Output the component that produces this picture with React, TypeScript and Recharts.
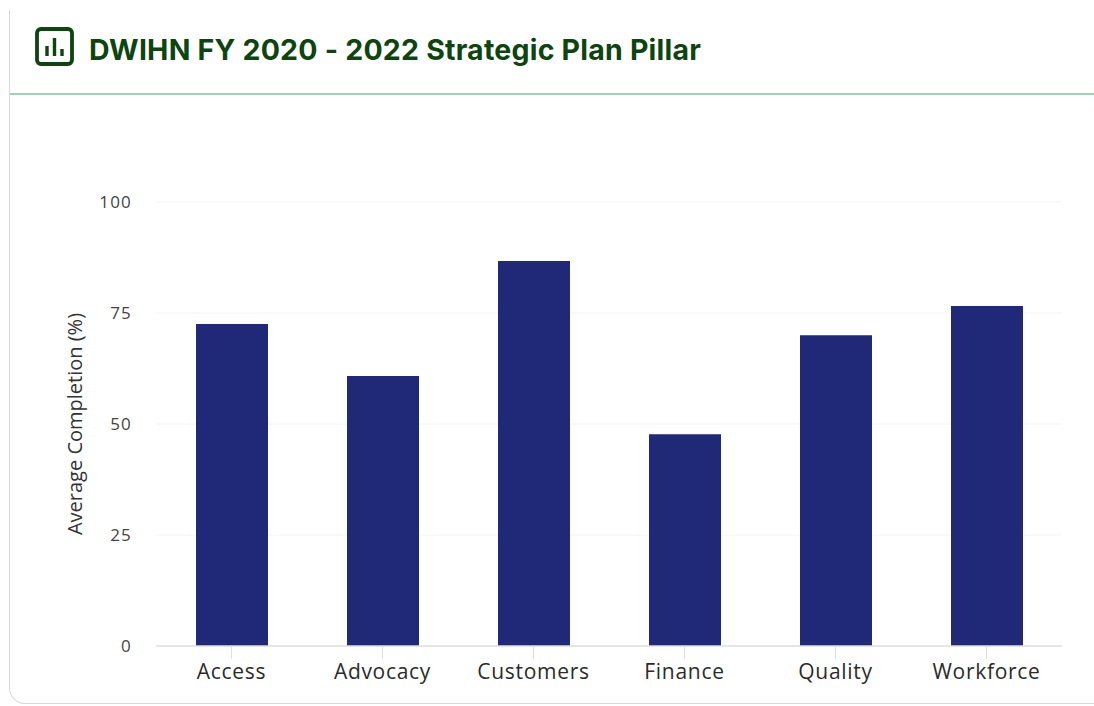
import { BarChart, Bar, XAxis, YAxis, CartesianGrid, Label } from "recharts";

const pillars = ["Access", "Advocacy", "Customers", "Finance", "Quality", "Workforce"];
const completion = [72.5, 60.8, 86.7, 47.7, 70, 76.6];
const yTicks = [0, 25, 50, 75, 100];

const data = pillars.map((pillar, i) => ({ pillar, completion: completion[i] }));

const AXIS_FONT = "'Open Sans', sans-serif";

function PanelIcon() {
  return (
    <svg width={40} height={40} viewBox="0 0 40 40" style={{ position: "absolute", left: 35, top: 27 }}>
      <rect x={2} y={2} width={35} height={35} rx={4} fill="none" stroke="#0d4410" strokeWidth={3.8} />
      <path d="M12 19v10M19.5 11v18M27 22v7" stroke="#0d4410" strokeWidth={3.4} fill="none" />
    </svg>
  );
}

export default function App() {
  return (
    <div style={{ position: "absolute", left: 0, top: 0, width: 1094, height: 706, background: "#fff", overflow: "hidden" }}>
      {/* card outline, open on the right */}
      <div
        style={{
          position: "absolute",
          left: 9,
          top: 10,
          width: 1120,
          height: 694,
          boxSizing: "border-box",
          border: "1.5px solid #d8d8d8",
          borderTop: "none",
          borderBottomLeftRadius: 16,
        }}
      />
      <PanelIcon />
      <div
        style={{
          position: "absolute",
          left: 89,
          top: 31,
          fontFamily: "Inter, sans-serif",
          fontWeight: 700,
          fontSize: 28.5,
          letterSpacing: 0.22,
          lineHeight: "38px",
          color: "#0d4410",
          whiteSpace: "nowrap",
        }}
      >
        DWIHN FY 2020 - 2022 Strategic Plan Pillar
      </div>
      <div style={{ position: "absolute", left: 10, top: 93, width: 1084, height: 2, background: "#a3d1b6" }} />

      <div style={{ position: "absolute", left: 0, top: 0 }}>
        <BarChart
          width={1094}
          height={706}
          data={data}
          margin={{ top: 202, right: 32, bottom: 0, left: 96 }}
        >
          <CartesianGrid vertical={false} stroke="#f4f4f4" />
          <XAxis
            dataKey="pillar"
            height={60}
            interval={0}
            tick={{ fontFamily: AXIS_FONT, fontSize: 21, fill: "#2b2b2b", letterSpacing: 0.7 }}
            tickLine={{ stroke: "#dedede" }}
            axisLine={{ stroke: "#dedede", strokeWidth: 1.5 }}
            tickSize={13}
            tickMargin={5}
          />
          <YAxis
            width={60}
            domain={[0, 100]}
            ticks={yTicks}
            axisLine={false}
            tickLine={false}
            tickMargin={18}
            tick={{ fontFamily: AXIS_FONT, fontSize: 17, fill: "#444", letterSpacing: 1.2 }}
          >
            <Label
              value="Average Completion (%)"
              angle={-90}
              position="insideLeft"
              dx={-26}
              style={{ fontFamily: AXIS_FONT, fontSize: 20, fill: "#333", textAnchor: "middle" }}
            />
          </YAxis>
          <Bar dataKey="completion" fill="#202878" barSize={72} isAnimationActive={false} />
        </BarChart>
      </div>
    </div>
  );
}
